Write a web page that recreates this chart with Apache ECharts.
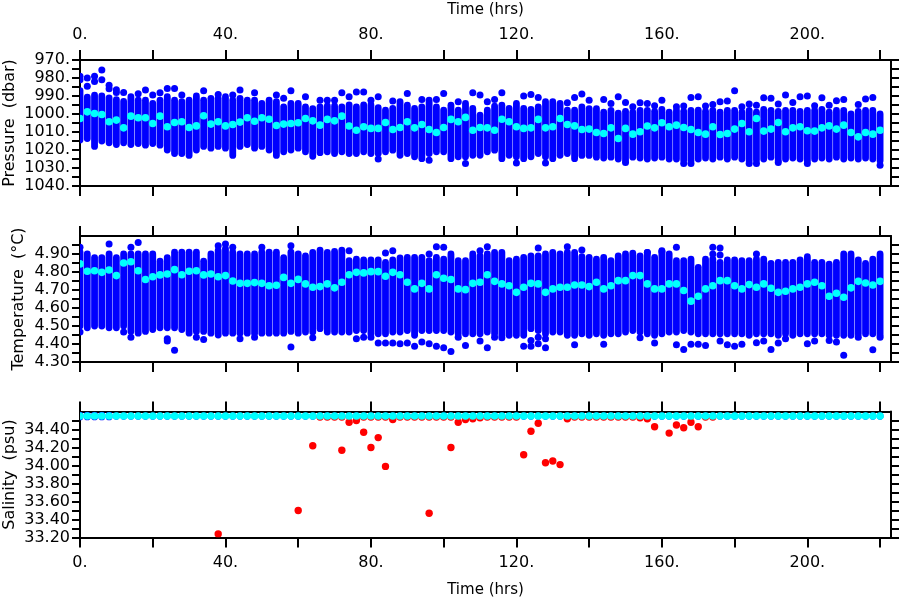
<!DOCTYPE html>
<html><head><meta charset="utf-8">
<script src="https://cdn.jsdelivr.net/npm/echarts@6/dist/echarts.min.js"></script>
<style>html,body{margin:0;padding:0;background:#fff}#c{width:900px;height:600px}</style>
</head><body><div id="c"></div>
<script>
// ---------- data ----------
const times = [0,2,4,6,8,10,12,14,16,18,20,22,24,26,28,30,32,34,36,38,40,42,44,46,48,50,52,54,56,58,60,62,64,66,68,70,72,74,76,78,80,82,84,86,88,90,92,94,96,98,100,102,104,106,108,110,112,114,116,118,120,122,124,126,128,130,132,134,136,138,140,142,144,146,148,150,152,154,156,158,160,162,164,166,168,170,172,174,176,178,180,182,184,186,188,190,192,194,196,198,200,202,204,206,208,210,212,214,216,218,220];

// Pressure: mean per burst, dense range (top/bottom) and isolated samples
const presMean = [1002.5,998.8,999.7,1000.3,1004.3,1003.4,1007.7,1001.2,1002.1,1002.1,1005.3,1001.2,1007.1,1004.7,1004.3,1007.5,1006.6,1001.0,1005.6,1004.3,1006.6,1005.8,1004.5,1002.1,1004.0,1002.1,1002.9,1006.4,1005.6,1005.3,1004.9,
 1002.5,1003.8,1006.2,1003.0,1003.8,1001.2,1006.7,1009.0,1007.1,1008.0,1008.0,1004.7,1008.6,1007.5,1004.3,1007.7,1005.8,1008.6,1010.3,1007.5,1003.0,1004.3,1001.9,1009.0,1007.5,1007.7,1009.0,1002.9,1004.3,1007.1,1008.0,1007.7,1003.0,1007.7,1007.1,1002.5,1005.8,1006.6,1008.6,1008.4,1010.3,
 1010.8,1007.7,1013.6,1008.0,1011.2,1009.9,1006.7,1007.7,1004.9,1007.1,1006.2,1007.5,1008.6,1010.3,1011.2,1007.1,1011.4,1010.8,1008.4,1005.3,1009.9,1002.5,1009.5,1008.4,1004.7,1009.9,1007.7,1007.1,1009.3,1009.5,1007.7,1006.6,1008.4,1006.2,1010.3,1012.7,1010.3,1011.2,1009.0];
const presLow = [987,990.6,989.5,990,991,992,993,990.4,992.3,992.3,994.1,992.3,990.4,992.3,993.2,992.3,990,992.3,991.3,991.3,990.4,992.3,991.3,992.3,992.3,994.1,992.3,993.2,996,994.1,994.1,
 996,997,996,995.5,995.5,996,995,996,995,995,996.5,
 997.8,996.9,993.2,995.1,996.9,996.0,992.3,996.0,997.8,995.1,997.8,994.1,996.9,1000.6,997.8,995.6,995.1,996.9,994.1,996.9,997.5,996.0,993.2,993.2,994.1,997.8,997.8,
 996,997,997,
 999,998,999.5,998.5,999,998,998,998.5,997.5,999,998,998.5,998,997.8,998.5,998,999,998,998,999,998,999,997.5,998,998.5,998,998,998.5,998,998,997.5,999,998,998,1000,998.5,998,998,1000];
const presHigh = [1014.5,1013.6,1018,1015,1016,1017,1016,1017,1016.4,1017.3,1016.4,1017.3,1020,1022,1022,1023,1020,1018,1019,1018,1019,1023,1018,1017,1019,1018,1020,1023,1021,1020,1019,
 1021,1023.5,1021.5,1021,1022,1021,1022,1022,1021,1022,1022,
 1021.0,1020.1,1022.9,1022.0,1023.8,1024.8,1022.0,1021.0,1021.0,1024.8,1023.8,1023.8,1022.9,1022.9,1021.0,1020.1,1024.8,1022.9,1023.8,1024.8,1023.8,1022.0,1023.8,1024.8,1022.9,1022.0,1024.8,
 1023,1023,1024,
 1024.5,1024,1025,1025.5,1024,1024.5,1025,1024.5,1024,1025,1025,1025.5,1026,1025,1024.5,1025,1024,1025,1024,1025,1026,1025.5,1025,1024,1026,1025,1024.5,1025,1026,1025,1024.5,1025,1024,1025,1024.5,1025,1024.5,1025,1026];
const presOut = [[0,979],[0,981],[2,980],[2,984.6],[4,979],[4,982],[6,975.6],[6,981],[8,984],[8,986],[10,986.5],[10,988],[12,988],[16,988.7],[18,986.7],[20,989.5],[22,988.2],[24,985.8],[26,985.8],[28,989.5],[34,987.1],[38,989.1],[42,989.5],[44,986.7],[48,988.2],[54,989.5],[56,991.3],[58,987.1],
 [62,990.4],[66,992.3],[68,992.3],[70,992.3],[72,988.2],[74,990.4],[76,987.8],[78,987.8],[80,992.3],[82,990.4],[82,1025],[86,992.8],[90,988.6],[94,991.9],[96,1025.7],[98,991.9],[100,988.6],[104,993.2],[106,1027.5],[108,988.2],[110,989.5],[112,993.2],[114,991.9],[116,988.2],[120,1027.2],[122,990.0],[124,989.1],[126,990.8],[128,1027.2],[134,993.8],[136,990.8],[138,988.9],[140,992.3],
 [144,991.9],[146,994.1],[148,990.4],[150,993.6],[150,1027.0],[152,996.0],[154,993.8],[156,994.1],[158,995.4],[160,992.3],[164,996.0],[166,995.6],[166,1027.5],[168,990.8],[168,1027.5],[170,990.4],[172,995.6],[174,994.7],[176,993.2],[178,992.8],[180,987.1],[182,996.0],[184,994.5],[184,1027.5],[186,995.1],[186,1027.5],[188,991.0],[190,991.3],[192,994.5],[192,1027.0],[194,989.5],[196,993.6],[198,990.4],[200,990.0],[200,1027.5],[202,995.4],[204,991.0],[206,995.2],[208,992.6],[210,991.9],[214,994.7],[216,991.7],[218,990.8],[220,1028.5]];

// Temperature
const tempMean = [4.845,4.804,4.807,4.798,4.811,4.780,4.850,4.857,4.807,4.758,4.774,4.784,4.789,4.813,4.785,4.804,4.807,4.784,4.789,4.774,4.780,4.750,4.737,4.737,4.741,4.737,4.724,4.726,4.770,4.737,4.759,
 4.734,4.715,4.719,4.734,4.712,4.743,4.785,4.798,4.795,4.802,4.802,4.776,4.798,4.785,4.743,4.706,4.737,4.706,4.785,4.765,4.758,4.706,4.702,4.737,4.743,4.785,4.748,4.734,4.724,4.687,4.715,4.737,4.734,4.687,4.706,4.715,4.715,4.728,4.728,4.719,4.743,
 4.706,4.724,4.752,4.752,4.780,4.780,4.734,4.706,4.706,4.734,4.734,4.697,4.638,4.665,4.706,4.724,4.752,4.752,4.724,4.706,4.730,4.715,4.734,4.710,4.687,4.693,4.706,4.715,4.734,4.743,4.724,4.665,4.682,4.660,4.712,4.748,4.739,4.728,4.748];
const tempHigh = [4.91,4.90,4.88,4.88,4.90,4.88,4.90,4.90,4.90,4.90,4.90,4.86,4.88,4.91,4.91,4.91,4.91,4.86,4.90,4.92,4.93,4.91,4.90,4.90,4.90,4.91,4.91,4.91,4.88,4.91,4.90,
 4.890,4.909,4.922,4.909,4.914,4.922,4.863,4.872,4.867,4.867,4.867,4.854,4.867,4.878,4.881,4.881,4.881,4.863,4.881,4.872,4.900,4.863,4.863,4.900,4.890,4.900,4.909,4.909,4.863,4.872,4.881,4.890,4.890,4.900,4.909,4.900,4.909,4.909,4.885,4.881,4.872,
 4.881,4.863,4.890,4.900,4.905,4.890,4.909,4.881,4.918,4.900,4.863,4.863,4.872,4.826,4.872,4.872,4.854,4.867,4.867,4.863,4.863,4.872,4.872,4.848,4.854,4.854,4.854,4.867,4.885,4.854,4.854,4.844,4.854,4.900,4.900,4.867,4.848,4.872,4.900];
const tempLow = [4.50,4.49,4.50,4.50,4.49,4.49,4.50,4.47,4.46,4.47,4.48,4.49,4.49,4.49,4.48,4.46,4.47,4.47,4.46,4.45,4.46,4.46,4.46,4.46,4.46,4.46,4.46,4.46,4.46,4.47,4.46,
 4.466,4.466,4.485,4.466,4.466,4.466,4.466,4.475,4.475,4.457,4.457,4.457,4.466,4.466,4.475,4.448,4.475,4.475,4.475,4.475,4.466,4.457,4.457,4.457,4.457,4.466,4.457,4.448,4.448,4.448,4.448,4.485,4.475,4.457,4.466,4.466,4.448,4.448,4.457,4.448,4.457,
 4.448,4.457,4.457,4.466,4.475,4.466,4.457,4.448,4.457,4.466,4.466,4.475,4.466,4.457,4.457,4.457,4.457,4.457,4.457,4.457,4.448,4.457,4.457,4.457,4.448,4.457,4.448,4.457,4.457,4.457,4.457,4.448,4.448,4.448,4.448,4.457,4.457,4.457,4.448];
const tempOut = [[0,4.937],[0,4.466],[8,4.955],[12,4.466],[14,4.937],[14,4.438],[16,4.964],[24,4.429],[24,4.416],[26,4.365],[32,4.438],[34,4.425],[38,4.946],[40,4.955],[42,4.937],[44,4.429],[48,4.438],[50,4.937],[58,4.946],[58,4.383],
 [64,4.435],[74,4.918],[76,4.429],[78,4.438],[80,4.438],[82,4.405],[84,4.905],[84,4.405],[86,4.918],[86,4.405],[88,4.401],[90,4.405],[92,4.387],[94,4.411],[96,4.900],[96,4.401],[98,4.940],[98,4.387],[100,4.937],[100,4.379],[102,4.359],[104,4.438],[106,4.392],[110,4.918],[110,4.416],[112,4.940],[112,4.379],[114,4.438],[116,4.435],[122,4.387],[124,4.420],[124,4.387],[126,4.934],[126,4.438],[126,4.401],[128,4.429],[128,4.379],[134,4.940],[136,4.396],[138,4.922],
 [144,4.398],[154,4.435],[156,4.909],[158,4.405],[160,4.914],[164,4.937],[164,4.396],[166,4.370],[168,4.398],[170,4.398],[172,4.392],[174,4.937],[174,4.900],[176,4.934],[176,4.894],[176,4.416],[178,4.396],[180,4.387],[182,4.398],[186,4.900],[186,4.407],[188,4.416],[190,4.370],[192,4.405],[194,4.429],[200,4.401],[202,4.416],[206,4.420],[208,4.411],[210,4.337],[214,4.438],[218,4.368],[220,4.438]];

// Salinity
const salMean = [34.55,34.55,34.55,34.55,34.55,34.55,34.55,34.55,34.55,34.55,34.55,34.55,34.55,34.55,34.55,34.55,34.55,34.55,34.55,34.55,34.55,34.55,34.55,34.55,34.55,34.55,34.55,34.55,34.55,34.55,34.55,34.55,34.55,34.55,34.55,34.55,34.55,34.55,34.55,34.55,34.55,34.55,34.55,34.55,34.55,34.55,34.55,34.55,34.55,34.55,34.55,34.55,34.55,34.55,34.55,34.55,34.55,34.55,34.55,34.55,34.55,34.55,34.55,34.55,34.55,34.55,34.55,34.55,34.55,34.55,34.55,34.55,34.55,34.55,34.55,34.55,34.55,34.55,34.55,34.55,34.55,34.55,34.55,34.55,34.55,34.55,34.55,34.55,34.55,34.55,34.55,34.55,34.55,34.55,34.55,34.55,34.55,34.55,34.55,34.55,34.55,34.55,34.55,34.55,34.55,34.55,34.55,34.55,34.55,34.55,34.55];
const salLow = [34.540,34.540,34.540,34.540,34.540,34.547,34.547,34.547,34.547,34.547,34.547,34.547,34.547,34.547,34.547,34.547,34.547,34.547,34.547,34.547,34.547,34.547,34.547,34.547,34.547,34.547,34.547,34.547,34.547,34.547,34.547,34.547,34.547,34.547,34.547,34.547,34.547,34.547,34.547,34.547,34.547,34.547,34.547,34.547,34.547,34.547,34.547,34.547,34.547,34.547,34.547,34.547,34.547,34.547,34.547,34.547,34.547,34.547,34.547,34.547,34.547,34.547,34.547,34.547,34.547,34.547,34.547,34.547,34.547,34.547,34.547,34.547,34.547,34.547,34.547,34.547,34.547,34.547,34.547,34.547,34.547,34.547,34.547,34.547,34.547,34.547,34.547,34.547,34.547,34.547,34.547,34.547,34.547,34.547,34.547,34.547,34.547,34.547,34.547,34.547,34.547,34.547,34.547,34.547,34.547,34.547,34.547,34.547,34.547,34.547,34.547];
const salHigh = [34.560,34.560,34.560,34.560,34.560,34.551,34.551,34.551,34.551,34.551,34.551,34.551,34.551,34.551,34.551,34.551,34.551,34.551,34.551,34.551,34.551,34.551,34.551,34.551,34.551,34.551,34.551,34.551,34.551,34.551,34.551,34.551,34.551,34.551,34.551,34.551,34.551,34.551,34.551,34.551,34.551,34.551,34.551,34.551,34.551,34.551,34.551,34.551,34.551,34.551,34.551,34.551,34.551,34.551,34.551,34.551,34.551,34.551,34.551,34.551,34.551,34.551,34.551,34.551,34.551,34.551,34.551,34.551,34.551,34.551,34.551,34.551,34.551,34.551,34.551,34.551,34.551,34.551,34.551,34.551,34.551,34.551,34.551,34.551,34.551,34.551,34.551,34.551,34.551,34.551,34.551,34.551,34.551,34.551,34.551,34.551,34.551,34.551,34.551,34.551,34.551,34.551,34.551,34.551,34.551,34.551,34.551,34.551,34.551,34.551,34.551];
const salRed = [[66,34.538],[68,34.538],[70,34.538],[72,34.538],[78,34.538],[80,34.538],[82,34.538],[84,34.538],[88,34.538],[90,34.538],[92,34.538],[94,34.538],[96,34.538],[98,34.538],[100,34.538],[102,34.538],[112,34.538],[114,34.538],[116,34.538],[118,34.538],[120,34.538],[136,34.538],[138,34.538],[140,34.538],[142,34.538],[144,34.538],[146,34.538],[148,34.538],[150,34.538],[152,34.538],[172,34.538],[174,34.538],
 [38,33.24],[60,33.50],[64,34.22],[72,34.17],[74,34.48],[76,34.50],[78,34.37],[80,34.20],[82,34.31],[84,33.99],[86,34.51],[96,33.47],[102,34.20],[104,34.48],[106,34.51],[108,34.52],[110,34.53],[122,34.12],[124,34.38],[126,34.47],[128,34.03],[130,34.05],[132,34.01],[134,34.52],[154,34.53],[156,34.52],[158,34.43],[162,34.36],[164,34.45],[166,34.42],[168,34.48],[170,34.43]];

// Axis ticks and labels
const xTicks = [0,20,40,60,80,100,120,140,160,180,200,220];
const xLabels = [0,40,80,120,160,200];
const presTicks = [970,975,980,985,990,995,1000,1005,1010,1015,1020,1025,1030,1035,1040];
const presLabels = [970,980,990,1000,1010,1020,1030,1040];
const tempTicks = [4.30,4.35,4.40,4.45,4.50,4.55,4.60,4.65,4.70,4.75,4.80,4.85,4.90,4.95];
const tempLabels = [4.30,4.40,4.50,4.60,4.70,4.80,4.90];
const salTicks = [33.2,33.3,33.4,33.5,33.6,33.7,33.8,33.9,34.0,34.1,34.2,34.3,34.4,34.5];
const salLabels = [33.2,33.4,33.6,33.8,34.0,34.2,34.4];

// ---------- chart ----------
const FONT = 'DejaVu Sans';
const BLACK = '#000';
const BLUE = '#0000ff', CYAN = '#00ffff', RED = '#ff0000';
const X_MAX = 223;

function xAxis(grid, pos, labels, name, gap) {
  return {
    type: 'value', gridIndex: grid, position: pos, min: 0, max: X_MAX,
    axisLine: {show: true, onZero: false, lineStyle: {color: BLACK, width: 2}},
    axisTick: {show: true, inside: false, length: 10, customValues: xTicks, lineStyle: {color: BLACK, width: 2}},
    axisLabel: {show: labels, customValues: xLabels, formatter: v => v + '.', margin: 17,
      fontSize: 16, fontFamily: FONT, color: BLACK},
    splitLine: {show: false},
    name: name ? 'Time (hrs)' : '', nameLocation: 'middle', nameGap: gap || 43, nameMoveOverlap: false,
    nameTextStyle: {fontSize: 15, fontFamily: FONT, color: BLACK}
  };
}
function yAxis(grid, pos, cfg) {
  const left = pos === 'left';
  return {
    type: 'value', gridIndex: grid, position: pos, min: cfg.min, max: cfg.max, inverse: !!cfg.inverse,
    axisLine: {show: true, onZero: false, lineStyle: {color: BLACK, width: 2}},
    axisTick: {show: true, inside: false, length: 8, customValues: cfg.ticks, lineStyle: {color: BLACK, width: 2}},
    axisLabel: {show: left, customValues: cfg.labels, formatter: cfg.fmt, margin: 10,
      fontSize: 16, fontFamily: FONT, color: BLACK},
    splitLine: {show: false},
    name: left ? cfg.name : '', nameLocation: 'middle', nameGap: cfg.gap, nameMoveOverlap: false,
    nameTextStyle: {fontSize: 16, fontFamily: FONT, color: BLACK}
  };
}

const presCfg = {min: 970, max: 1040, inverse: true, ticks: presTicks, labels: presLabels, fmt: v => v + '.', name: 'Pressure  (dbar)', gap: 62};
const tempCfg = {min: 4.30, max: 5.00, ticks: tempTicks, labels: tempLabels, fmt: v => v.toFixed(2), name: 'Temperature  (\u00B0C)', gap: 53};
const salCfg = {min: 33.2, max: 34.6, ticks: salTicks, labels: salLabels, fmt: v => v.toFixed(2), name: 'Salinity  (psu)', gap: 62};

function colRender(color, width) {
  return function (params, api) {
    const a = api.coord([api.value(0), api.value(1)]);
    const b = api.coord([api.value(0), api.value(2)]);
    return {type: 'line', shape: {x1: a[0], y1: a[1], x2: b[0], y2: b[1] + 0.01},
      style: {stroke: color, lineWidth: width, lineCap: 'round'}};
  };
}
function dotRender(color, r) {
  return function (params, api) {
    const p = api.coord([api.value(0), api.value(1)]);
    return {type: 'circle', shape: {cx: p[0], cy: p[1], r: r}, style: {fill: color}};
  };
}
function colSeries(ax, lows, highs, color, z) {
  return {type: 'custom', xAxisIndex: ax, yAxisIndex: ax, clip: true, z: z,
    renderItem: colRender(color, 6.8), encode: {x: 0, y: [1, 2]},
    data: times.map((t, i) => [t, lows[i], highs[i]])};
}
function dotSeries(ax, pts, color, r, z) {
  return {type: 'custom', xAxisIndex: ax, yAxisIndex: ax, clip: true, z: z,
    renderItem: dotRender(color, r), encode: {x: 0, y: 1}, data: pts};
}
const meanPts = arr => times.map((t, i) => [t, arr[i]]);

const chart = echarts.init(document.getElementById('c'), null, {renderer: 'canvas'});
const G = {left: 80, right: 9, height: 126, containLabel: false, outerBoundsMode: 'none'};
chart.setOption({
  animation: false,
  backgroundColor: '#fff',
  grid: [
    Object.assign({top: 60}, G),
    Object.assign({top: 236}, G),
    Object.assign({top: 411.5}, G)
  ],
  xAxis: [
    xAxis(0, 'bottom', false, false), xAxis(0, 'top', true, true, 42),
    xAxis(1, 'bottom', false, false), xAxis(1, 'top', false, false),
    xAxis(2, 'bottom', true, true, 45), xAxis(2, 'top', false, false)
  ],
  yAxis: [
    yAxis(0, 'left', presCfg), yAxis(0, 'right', presCfg),
    yAxis(1, 'left', tempCfg), yAxis(1, 'right', tempCfg),
    yAxis(2, 'left', salCfg), yAxis(2, 'right', salCfg)
  ],
  series: [
    colSeries(0, presLow, presHigh, BLUE, 2),
    dotSeries(0, presOut, BLUE, 3.5, 2),
    dotSeries(0, meanPts(presMean), CYAN, 3.8, 4),
    colSeries(2, tempLow, tempHigh, BLUE, 2),
    dotSeries(2, tempOut, BLUE, 3.5, 2),
    dotSeries(2, meanPts(tempMean), CYAN, 3.8, 4),
    colSeries(4, salLow, salHigh, BLUE, 2),
    dotSeries(4, salRed, RED, 3.7, 3),
    dotSeries(4, meanPts(salMean), CYAN, 3.8, 4)
  ]
});
</script>
</body></html>
